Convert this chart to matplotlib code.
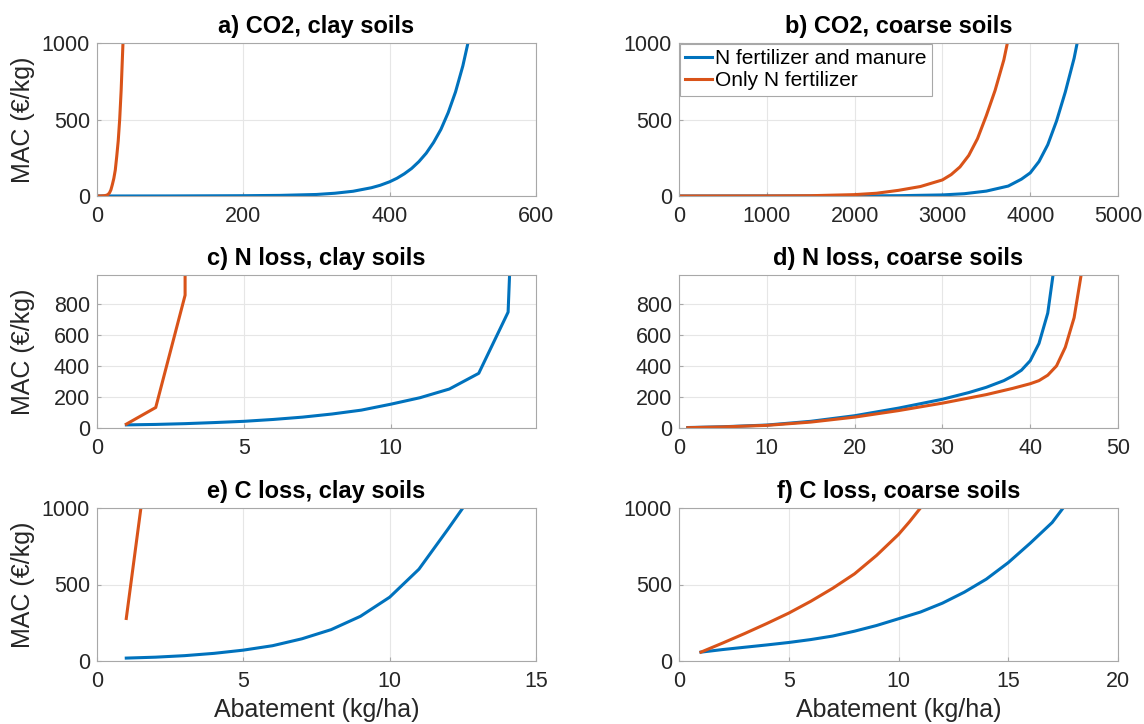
import numpy as np
import matplotlib.pyplot as plt

plt.rcParams['font.family'] = ['Liberation Sans', 'DejaVu Sans']

BLUE = '#0072BD'
ORANGE = '#D95319'

# a) CO2, clay soils
a_blue_x = [0, 100, 200, 250, 300, 325, 350, 375, 387, 400, 410, 420, 430, 440, 450, 460, 470, 480, 490, 500, 507]
a_blue_y = [0, 0.5, 2, 4, 10, 18, 31, 54, 70, 93, 116, 145, 180, 225, 280, 350, 435, 545, 680, 850, 1000]
a_orange_x = [0, 5, 10, 13, 15, 17, 19, 21, 23, 25, 27, 29, 31, 33, 35.5]
a_orange_y = [0, 0.5, 2, 5, 10, 20, 40, 75, 115, 170, 260, 360, 500, 690, 1000]

# b) CO2, coarse soils
b_blue_x = [0, 2000, 2500, 3000, 3250, 3500, 3750, 3900, 4000, 4100, 4200, 4300, 4400, 4500, 4535]
b_blue_y = [0, 0.5, 2, 7, 15, 32, 65, 110, 151, 225, 335, 490, 680, 900, 1000]
b_orange_x = [0, 1000, 1500, 2000, 2250, 2500, 2750, 3000, 3100, 3200, 3300, 3400, 3500, 3600, 3700, 3740]
b_orange_y = [0, 0.5, 2, 9, 18, 37, 62, 105, 140, 190, 265, 375, 525, 690, 890, 1000]

# c) N loss, clay soils
c_blue_x = [1, 2, 3, 4, 5, 6, 7, 8, 9, 10, 11, 12, 13, 14, 14.05]
c_blue_y = [20, 23, 28, 35, 43, 55, 70, 90, 115, 153, 195, 251, 352, 746, 985]
c_orange_x = [1, 2, 3, 3.0]
c_orange_y = [25, 132, 855, 985]

# d) N loss, coarse soils
d_blue_x = [1, 5, 10, 15, 20, 25, 30, 33, 35, 37, 38, 39, 40, 41, 42, 42.6]
d_blue_y = [3, 8, 19, 43, 79, 128, 185, 228, 262, 305, 335, 372, 433, 544, 740, 985]
d_orange_x = [1, 5, 10, 15, 20, 25, 30, 35, 38, 40, 41, 42, 43, 44, 45, 45.8]
d_orange_y = [2, 7, 17, 38, 70, 112, 160, 215, 255, 285, 305, 340, 400, 520, 710, 985]

# e) C loss, clay soils
e_blue_x = [1, 2, 3, 4, 5, 6, 7, 8, 9, 10, 11, 12, 12.5]
e_blue_y = [19, 25, 35, 50, 71, 100, 145, 205, 292, 417, 600, 864, 1000]
e_orange_x = [1, 1.5]
e_orange_y = [278, 1000]

# f) C loss, coarse soils
f_blue_x = [1, 2, 3, 4, 5, 6, 7, 8, 9, 10, 11, 12, 13, 14, 15, 16, 17, 17.5]
f_blue_y = [58, 75, 90, 105, 121, 140, 163, 195, 232, 276, 320, 378, 450, 535, 643, 770, 905, 1000]
f_orange_x = [1, 2, 3, 4, 5, 6, 7, 8, 9, 10, 10.5, 11]
f_orange_y = [58, 118, 180, 245, 313, 390, 475, 570, 690, 827, 910, 1000]

titles = ['a) CO2, clay soils', 'b) CO2, coarse soils',
          'c) N loss, clay soils', 'd) N loss, coarse soils',
          'e) C loss, clay soils', 'f) C loss, coarse soils']
series = [(a_blue_x, a_blue_y, a_orange_x, a_orange_y),
          (b_blue_x, b_blue_y, b_orange_x, b_orange_y),
          (c_blue_x, c_blue_y, c_orange_x, c_orange_y),
          (d_blue_x, d_blue_y, d_orange_x, d_orange_y),
          (e_blue_x, e_blue_y, e_orange_x, e_orange_y),
          (f_blue_x, f_blue_y, f_orange_x, f_orange_y)]
xlims = [(0, 600), (0, 5000), (0, 14.95), (0, 50), (0, 15), (0, 20)]
xticks = [[0, 200, 400, 600], [0, 1000, 2000, 3000, 4000, 5000], [0, 5, 10],
          [0, 10, 20, 30, 40, 50], [0, 5, 10, 15], [0, 5, 10, 15, 20]]
ylims = [(0, 1000), (0, 1000), (0, 985), (0, 985), (0, 1000), (0, 1000)]
yticks = [[0, 500, 1000], [0, 500, 1000], [0, 200, 400, 600, 800],
          [0, 200, 400, 600, 800], [0, 500, 1000], [0, 500, 1000]]

fig = plt.figure(figsize=(11.44, 7.24), dpi=100)
lefts = [97/1144, 679/1144]
bottoms = [1-196/724, 1-428/724, 1-661/724]
w = 439/1144
h = 153/724

for i in range(6):
    r, c = divmod(i, 2)
    ax = fig.add_axes([lefts[c], bottoms[r], w, h])
    bx, by, ox, oy = series[i]
    l1, = ax.plot(bx, by, color=BLUE, lw=2.2)
    l2, = ax.plot(ox, oy, color=ORANGE, lw=2.2)
    ax.set_xlim(*xlims[i])
    ax.set_ylim(*ylims[i])
    ax.set_xticks(xticks[i])
    ax.set_yticks(yticks[i])
    ax.grid(True, color='#e6e6e6', lw=0.8)
    ax.set_axisbelow(True)
    for s in ax.spines.values():
        s.set_color('#a8a8a8')
        s.set_linewidth(0.8)
    ax.tick_params(direction='in', length=3, color='#a8a8a8', labelsize=15.5,
                   labelcolor='#262626')
    ax.tick_params(axis='x', pad=7)
    ax.tick_params(axis='y', pad=5)
    ax.set_title(titles[i], fontsize=17, fontweight='bold', pad=7)
    if c == 0:
        ax.set_ylabel('MAC (€/kg)', fontsize=18, color='#262626')
        ax.yaxis.set_label_coords(-0.141, 0.5)
    if r == 2:
        ax.set_xlabel('Abatement (kg/ha)', fontsize=18, color='#262626')
        ax.xaxis.set_label_coords(0.5, -0.245)
    if i == 1:
        leg = ax.legend([l1, l2], ['N fertilizer and manure', 'Only N fertilizer'],
                        loc='upper left', fontsize=15, handlelength=1.3,
                        handletextpad=0.15, borderaxespad=0.05, borderpad=0.25,
                        labelspacing=0.15, fancybox=False, framealpha=1)
        leg.get_frame().set_edgecolor('#a8a8a8')
        leg.get_frame().set_linewidth(0.8)

fig.savefig('out.png', dpi=100)
